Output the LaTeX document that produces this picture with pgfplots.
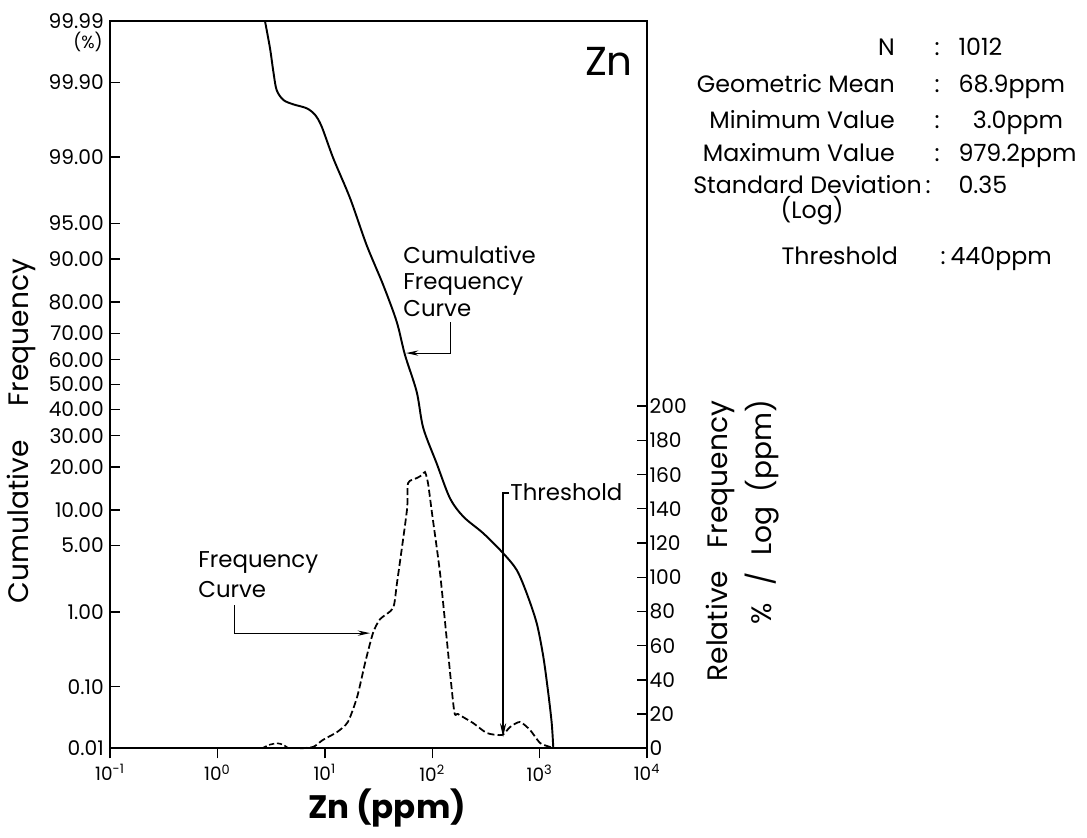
\documentclass[border=0pt]{standalone}
\usepackage{fontspec}
\setmainfont{Poppins}
\usepackage{pgfplots}
\usepackage{pgfplotstable}
\pgfplotsset{compat=1.18}
\usetikzlibrary{arrows.meta}

\newcommand\fs[1]{\fontsize{#1}{#1}\selectfont}

% cumulative frequency curve: ppm, probit of cumulative %
\pgfplotstableread{
ppm z
2.77 3.719
3.09 3.437
3.32 3.198
3.56 3.011
4.11 2.909
5.09 2.864
6.78 2.824
8.11 2.757
9.36 2.636
12.0 2.312
17.2 1.904
24.5 1.426
35.0 1.017
46.7 0.642
55.8 0.302
71.7 -0.074
82.6 -0.445
110 -0.806
146 -1.160
195 -1.351
299 -1.521
459 -1.726
612 -1.896
759 -2.135
940 -2.441
1083 -2.783
1205 -3.157
1297 -3.464
1342 -3.719
}\cumdata

% relative frequency (% / log ppm)
\pgfplotstableread{
ppm f
5.9 0
7.8 0.8
9.6 4.9
13.0 9.5
16.4 15.4
20.0 30.0
23.7 49.8
28.1 67.4
32.7 75.5
43.2 82
47.0 96.6
58.2 139.3
59.6 155
72.1 158
80.4 159.7
85.7 161.5
91.4 155
99.5 137.6
118 103
137 63
160 22
174 20
240 14.8
324 8.9
447 7.8
530 12.4
656 15.4
815 10.7
1009 3.1
1250 0.8
1334 0
}\freqdata

\pgfplotstableread{
ppm f
2.6 0
3.1 2.2
3.66 2.9
4.1 2.0
4.6 0
}\freqbump

\begin{document}
\begin{tikzpicture}
\path (0,0) rectangle (21.74cm,-16.74cm);

\begin{axis}[
  at={(2.2cm,-14.966cm)}, anchor=south west,
  scale only axis, width=10.74cm, height=14.552cm,
  xmode=log, xmin=0.1, xmax=10000, xminorticks=false,
  ymin=-3.719, ymax=3.719,
  clip=false,
  axis line style={line width=1pt},
  major tick style={line width=0.8pt, black},
  major tick length=0.2cm,
  /pgf/number format/assume math mode=true,
  xtick={0.1,1,10,100,1000,10000},
  xticklabels={10\textsuperscript{-1},10\textsuperscript{0},10\textsuperscript{1},10\textsuperscript{2},10\textsuperscript{3},10\textsuperscript{4}},
  ytick={3.719,3.090,2.326,1.645,1.282,0.842,0.524,0.253,0,-0.253,-0.524,-0.842,-1.282,-1.645,-2.326,-3.090,-3.719},
  yticklabels={99.99,99.90,99.00,95.00,90.00,80.00,70.00,60.00,50.00,40.00,30.00,20.00,10.00,5.00,1.00,0.10,0.01},
  xtick pos=left, ytick pos=left,
  xtick align=outside, ytick align=inside,
  xticklabel style={font=\fs{10.5}},
  yticklabel style={font=\fs{11.5}},
]
\addplot[black, line width=1.1pt, smooth, tension=0.5] table[x=ppm, y=z] {\cumdata};
\end{axis}

\begin{axis}[
  at={(2.2cm,-14.966cm)}, anchor=south west,
  scale only axis, width=10.74cm, height=14.552cm,
  xmode=log, xmin=0.1, xmax=10000,
  ymin=0, ymax=425.3,
  clip=false,
  axis x line=none, axis y line*=right,
  axis line style={line width=1pt},
  major tick style={line width=0.8pt, black},
  major tick length=0.2cm,
  /pgf/number format/assume math mode=true,
  ytick={0,20,...,200},
  ytick align=inside,
  yticklabel style={font=\fs{11.5}, xshift=-2pt},
]
\addplot[black, line width=1pt, dash pattern=on 4pt off 1.8pt, smooth, tension=0.4] table[x=ppm, y=f] {\freqdata};
\addplot[black, line width=0.9pt, dash pattern=on 3pt off 1.5pt, smooth] table[x=ppm, y=f] {\freqbump};
\end{axis}

% annotations, in picture pixels
\begin{scope}[x=0.02cm, y=-0.02cm, every node/.style={inner sep=0pt}]
  \node[anchor=base east] at (103,48) {\fs{10}(\%)};
  \node[anchor=base east] at (633,75) {\fs{23}Zn};
  \node[anchor=base] at (387,818) {\fs{18.5}\bfseries Zn (ppm)};
  \node[rotate=90] at (21,431) {\fs{16}Cumulative\hspace{1.2em}Frequency};
  \node[rotate=90] at (720,541) {\fs{16}Relative\hspace{0.8em}Frequency};
  \node[rotate=90] at (762,512) {\fs{16}\%\hspace{0.6em}/\hspace{0.6em}Log\hspace{0.5em}(ppm)};

  % curve labels
  \node[anchor=base west] at (403,263) {\fs{13}Cumulative};
  \node[anchor=base west] at (403,289) {\fs{13}Frequency};
  \node[anchor=base west] at (403,316) {\fs{13}Curve};
  \draw[line width=0.6pt, -{Stealth[length=7pt,width=3pt]}] (450,322) -- (450,353) -- (406,353);

  \node[anchor=base west] at (198,567) {\fs{13}Frequency};
  \node[anchor=base west] at (198,597) {\fs{13}Curve};
  \draw[line width=0.6pt, -{Stealth[length=7pt,width=3pt]}] (234,605) -- (234,633) -- (370,633);

  \node[anchor=base west] at (510,500) {\fs{13}Threshold};
  \draw[line width=0.7pt, -{Stealth[length=8pt,width=3.5pt]}] (509,493) -- (503,493) -- (503,737);

  % statistics
  \foreach \lab/\val/\yy in {N/1012/55, Geometric Mean/68.9ppm/92, Minimum Value/\hspace{0.6em}3.0ppm/128, Maximum Value/979.2ppm/161} {
    \node[anchor=base east] at (895,\yy) {\fs{13.5}\lab};
    \node[anchor=base] at (937,\yy) {\fs{13.5}:};
    \node[anchor=base west] at (958,\yy) {\fs{13.5}\val};
  }
  \node[anchor=base east] at (922,193) {\fs{13.5}Standard Deviation};
  \node[anchor=base] at (928,193) {\fs{13.5}:};
  \node[anchor=base west] at (958,193) {\fs{13.5}0.35};
  \node[anchor=base] at (812,218) {\fs{13.5}(Log)};
  \node[anchor=base east] at (898,264) {\fs{13.5}Threshold};
  \node[anchor=base] at (943,264) {\fs{13.5}:};
  \node[anchor=base west] at (950,264) {\fs{13.5}440ppm};
\end{scope}
\end{tikzpicture}
\end{document}
